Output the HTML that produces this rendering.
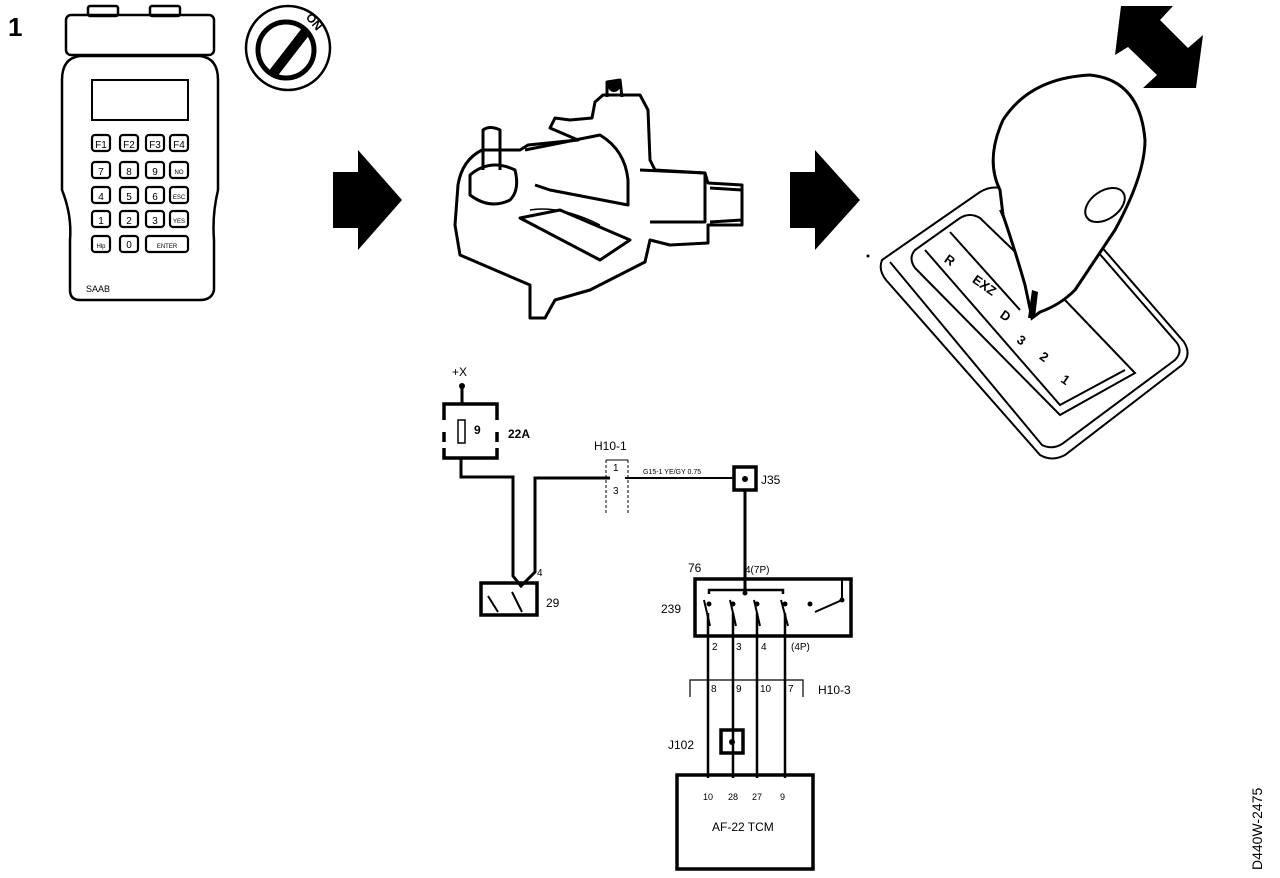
<!DOCTYPE html>
<html><head><meta charset="utf-8"><style>
html,body{margin:0;padding:0;background:#fff}
svg{display:block}
text{font-family:"Liberation Sans",sans-serif;fill:#000}
</style></head><body>
<svg width="1280" height="878" viewBox="0 0 1280 878" xmlns="http://www.w3.org/2000/svg">
<rect width="1280" height="878" fill="#fff"/>
<text x="8" y="36" font-size="26" font-weight="bold">1</text>

<!-- tester -->
<g fill="none" stroke="#000" stroke-width="2.5">
<rect x="88" y="6" width="30" height="10" rx="2"/>
<rect x="150" y="6" width="30" height="10" rx="2"/>
<rect x="66" y="15" width="148" height="40" rx="5"/>
<path d="M80 56 L200 56 Q218 58 218 80 L218 190 Q212 215 214 240 L214 290 Q212 300 200 300 L80 300 Q70 300 70 290 L70 240 Q72 215 62 190 L62 80 Q62 58 80 56 Z"/>
<rect x="92" y="80" width="96" height="40" stroke-width="2"/>
</g>
<g fill="none" stroke="#000" stroke-width="2.2">
<rect x="92" y="135" width="18" height="16" rx="3"/><rect x="120" y="135" width="18" height="16" rx="3"/><rect x="146" y="135" width="18" height="16" rx="3"/><rect x="170" y="135" width="18" height="16" rx="3"/>
<rect x="92" y="162" width="18" height="16" rx="3"/><rect x="120" y="162" width="18" height="16" rx="3"/><rect x="146" y="162" width="18" height="16" rx="3"/><rect x="170" y="162" width="18" height="16" rx="3"/>
<rect x="92" y="187" width="18" height="16" rx="3"/><rect x="120" y="187" width="18" height="16" rx="3"/><rect x="146" y="187" width="18" height="16" rx="3"/><rect x="170" y="187" width="18" height="16" rx="3"/>
<rect x="92" y="211" width="18" height="16" rx="3"/><rect x="120" y="211" width="18" height="16" rx="3"/><rect x="146" y="211" width="18" height="16" rx="3"/><rect x="170" y="211" width="18" height="16" rx="3"/>
<rect x="92" y="236" width="18" height="16" rx="3"/><rect x="120" y="236" width="18" height="16" rx="3"/><rect x="146" y="236" width="42" height="16" rx="3"/>
</g>
<g font-size="10" text-anchor="middle">
<text x="101" y="148">F1</text><text x="129" y="148">F2</text><text x="155" y="148">F3</text><text x="179" y="148">F4</text>
<text x="101" y="175">7</text><text x="129" y="175">8</text><text x="155" y="175">9</text><text x="179" y="174" font-size="6">NO</text>
<text x="101" y="200">4</text><text x="129" y="200">5</text><text x="155" y="200">6</text><text x="179" y="199" font-size="6">ESC</text>
<text x="101" y="224">1</text><text x="129" y="224">2</text><text x="155" y="224">3</text><text x="179" y="223" font-size="6">YES</text>
<text x="101" y="248" font-size="6">Hlp</text><text x="129" y="248">0</text><text x="167" y="248" font-size="6">ENTER</text>
</g>
<text x="86" y="292" font-size="9">SAAB</text>

<!-- ignition -->
<circle cx="288" cy="48" r="42" fill="none" stroke="#000" stroke-width="2.5"/>
<circle cx="286" cy="50" r="28" fill="none" stroke="#000" stroke-width="5"/>
<path d="M268 72 L302 28 L310 34 L276 78 Z" fill="#000"/>
<text x="305" y="22" font-size="12" font-weight="bold" transform="rotate(50 310 20)">ON</text>

<!-- block arrows -->
<polygon points="333,172 358,172 358,150 402,200 358,250 358,228 333,228" fill="#000"/>
<polygon points="790,172 815,172 815,150 860,200 815,250 815,228 790,228" fill="#000"/>

<!-- device -->
<g fill="none" stroke="#000" stroke-width="3" stroke-linejoin="round">
<path d="M458 185 Q462 160 482 150 L520 150 L528 145 L578 140 L550 128 L555 118 L570 120 L592 118 L595 102 L603 95 L640 95 L648 110 L650 160 L655 170 L705 173 L708 183 L742 185 L742 225 L708 225 L708 243 L670 245 L650 240 L645 262 L590 290 L555 300 L545 318 L530 318 L530 285 L460 255 L455 225 Z"/>
<path d="M483 170 L483 130 Q490 125 500 130 L500 170"/>
<path d="M470 175 Q490 158 515 170 Q520 190 510 200 Q490 210 470 195 Z"/>
<path d="M525 150 L600 135 Q625 150 628 180 L628 205 L550 190 L535 185"/>
<path d="M640 170 L705 173 L705 222 L650 222"/>
<path d="M710 188 L742 190 M710 222 L742 220"/>
<path d="M520 218 L560 210 L630 240 L600 260 Z"/>
<path d="M530 210 Q560 205 600 225" stroke-width="1.5"/>
<path d="M607 97 L607 82 L620 80 L622 97"/>
</g>
<circle cx="614" cy="86" r="6" fill="#000"/>

<!-- shifter -->
<g fill="none" stroke="#000" stroke-width="2">
<path d="M882 260 Q878 270 886 280 L1040 455 Q1052 462 1065 455 L1182 365 Q1192 355 1184 342 L1100 245 L1000 188 Q990 186 980 192 Z"/>
<path d="M890 262 L1042 445 Q1052 450 1062 444 L1175 360 Q1183 352 1177 343 L1098 252"/>
<path d="M915 250 Q908 258 915 268 L1060 415 L1135 373 L1065 300 L980 218 Q970 212 960 218 Z"/>
<path d="M925 250 L1060 405 L1125 370" />
<path d="M950 232 L1020 310 M1000 210 L1018 250"/>
</g>
<path d="M1000 190 Q985 160 1003 120 Q1030 78 1090 75 Q1140 80 1145 140 Q1145 175 1115 230 L1075 290 Q1060 305 1040 312 L1032 318 L1025 285 Q1015 250 1003 215 Z" fill="#fff" stroke="#000" stroke-width="3"/>
<ellipse cx="1105" cy="205" rx="22" ry="14" transform="rotate(-35 1105 205)" fill="none" stroke="#000" stroke-width="2"/>
<path d="M1028 318 L1032 290 L1038 292 L1035 318 Z" fill="#000"/>
<g font-size="13" font-weight="bold">
<text x="945" y="268" transform="rotate(35 955 262)">R</text>
<text x="972" y="290" transform="rotate(35 985 285)">EXZ</text>
<text x="1000" y="322" transform="rotate(35 1008 318)">D</text>
<text x="1018" y="345" transform="rotate(35 1022 340)">3</text>
<text x="1040" y="362" transform="rotate(35 1045 358)">2</text>
<text x="1062" y="385" transform="rotate(35 1067 380)">1</text>
</g>
<circle cx="868" cy="256" r="1.5" fill="#000"/>
<polygon points="1115,55 1121,6 1173,6 1160,20 1188,48 1203,35 1196,88 1143,88 1157,75 1128,47" fill="#000"/>

<!-- schematic -->
<g fill="none" stroke="#000" stroke-width="3">
<line x1="462" y1="385" x2="462" y2="404"/>
<path d="M444 420 L444 404 L497 404 L497 420 M444 432 L444 442 M497 432 L497 442 M444 448 L444 458 L497 458 L497 448" stroke-width="3.5"/>
<rect x="458" y="420" width="7" height="23" stroke-width="1.5"/>
<path d="M461 458 L461 477 L513 477 L513 576 L521 586 L535 572 L535 478 L610 478" />
<line x1="625" y1="478" x2="733" y2="478" stroke-width="2"/>
<rect x="734" y="467" width="22" height="23" stroke-width="3.5"/>
<line x1="745" y1="490" x2="745" y2="593"/>
<rect x="481" y="583" width="56" height="32" stroke-width="3.5"/>
<path d="M488 596 L498 612 M512 592 L522 612" stroke-width="2"/>
<rect x="695" y="579" width="156" height="57" stroke-width="3.5"/>
<path d="M709 594 L709 590 L783 590 L783 594 M708 613 L708 626 L708 778 M733 613 L733 778 M757 613 L757 778 M785 613 L785 778" stroke-width="2.5"/>
<path d="M704 600 L710 626 M730 600 L736 626 M754 600 L760 626 M781 600 L788 626 M815 612 L842 600 L842 580" stroke-width="2"/>
<path d="M690 697 L690 680 L803 680 L803 697" stroke-width="1.2"/>
<rect x="721" y="730" width="22" height="23" stroke-width="3.5"/>
<rect x="677" y="775" width="136" height="94" stroke-width="3.5"/>
</g>
<g fill="#000">
<circle cx="462" cy="386" r="3"/><circle cx="745" cy="479" r="3"/><circle cx="732" cy="742" r="3"/>
<circle cx="709" cy="604" r="2.5"/><circle cx="733" cy="604" r="2.5"/><circle cx="745" cy="593" r="2.5"/><circle cx="757" cy="604" r="2.5"/><circle cx="785" cy="604" r="2.5"/><circle cx="810" cy="604" r="2.5"/><circle cx="842" cy="600" r="2.5"/>
</g>
<g fill="none" stroke="#000" stroke-width="1">
<path d="M606 460 L606 515 M628 460 L628 515" stroke-dasharray="3,2"/>
<line x1="606" y1="460" x2="628" y2="460"/>
</g>
<g font-size="12">
<text x="452" y="376">+X</text>
<text x="474" y="434" font-weight="bold">9</text>
<text x="508" y="438" font-weight="bold">22A</text>
<text x="594" y="450">H10-1</text>
<text x="613" y="471" font-size="10">1</text>
<text x="613" y="494" font-size="10">3</text>
<text x="643" y="474" font-size="7">G15-1 YE/GY 0.75</text>
<text x="761" y="484">J35</text>
<text x="537" y="576" font-size="10">4</text>
<text x="546" y="607">29</text>
<text x="688" y="572">76</text>
<text x="745" y="573" font-size="10">4(7P)</text>
<text x="661" y="613">239</text>
<text x="712" y="650" font-size="10">2</text>
<text x="736" y="650" font-size="10">3</text>
<text x="761" y="650" font-size="10">4</text>
<text x="791" y="650" font-size="10">(4P)</text>
<text x="711" y="692" font-size="10">8</text>
<text x="736" y="692" font-size="10">9</text>
<text x="760" y="692" font-size="10">10</text>
<text x="788" y="692" font-size="10">7</text>
<text x="818" y="694">H10-3</text>
<text x="668" y="749">J102</text>
<text x="703" y="800" font-size="9">10</text>
<text x="728" y="800" font-size="9">28</text>
<text x="752" y="800" font-size="9">27</text>
<text x="780" y="800" font-size="9">9</text>
<text x="712" y="831">AF-22 TCM</text>
</g>
<text x="0" y="0" font-size="14" transform="translate(1262 870) rotate(-90)">D440W-2475</text>
</svg>
</body></html>
